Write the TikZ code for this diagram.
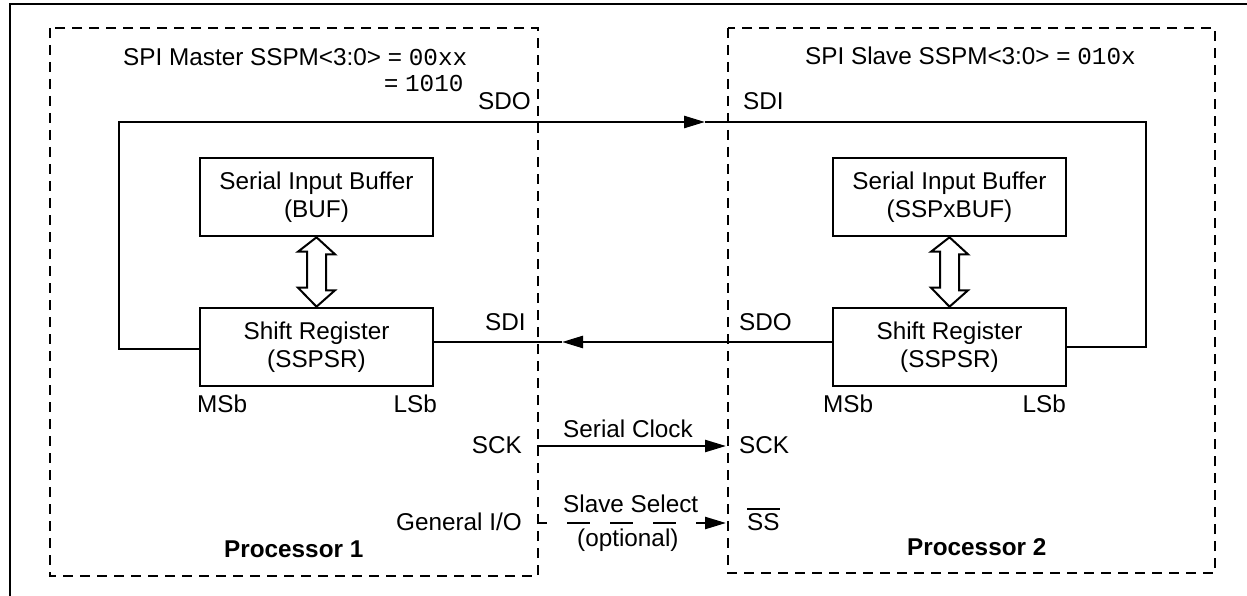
\documentclass[tikz,border=0pt]{standalone}
\usepackage{fontspec}
\setmainfont{Liberation Sans}
\setmonofont{Liberation Mono}
\usetikzlibrary{arrows.meta}
\newcommand\myoverbar[1]{\leavevmode\vbox{\hrule height 1.8pt\kern 3pt\hbox{#1}}}
\begin{document}
\begin{tikzpicture}[x=1pt,y=-1pt,
  every node/.style={font=\fontsize{24.3pt}{28pt}\selectfont, inner sep=0pt},
  blk/.style={draw, line width=2.6pt, minimum width=233pt, minimum height=78pt, align=center},
  wire/.style={line width=2.6pt},
  dbox/.style={line width=2pt, dash pattern=on 10pt off 7pt},
  arrowto/.style={-{Triangle[length=21pt,width=12pt]}},
  lbl/.style={anchor=base west},
  lble/.style={anchor=base east},
  dblarrow/.style={line width=2pt, fill=white}]
\useasboundingbox (0,0) rectangle (1247,596);

% outer frame
\draw[wire] (10,596) -- (10,4) -- (1247,4);

% processor boxes
\draw[dbox] (50,28) rectangle (538,576);
\draw[dbox] (728,28) rectangle (1215,573);

% titles
\node[lbl] (mtitle) at (123,66) {SPI Master SSPM<3:0> = \texttt{00xx}};
\node[lbl] (mtitle2) at (384,92) {= \texttt{1010}};
\node[lbl] (stitle) at (805,65) {SPI Slave SSPM<3:0> = \texttt{010x}};

% blocks
\node[blk] (mBUF) at (316.5,197) {Serial Input Buffer\\(BUF)};
\node[blk] (mSR) at (316.5,347) {Shift Register\\(SSPSR)};
\node[blk] (sBUF) at (949.5,197) {Serial Input Buffer\\(SSPxBUF)};
\node[blk] (sSR) at (949.5,347) {Shift Register\\(SSPSR)};

% double arrows
\draw[dblarrow] (mBUF.south) -- ++(18.5,17) -- ++(-9,0) -- ++(0,36) -- ++(9,0) -- (mSR.north)
  -- ++(-18.5,-19) -- ++(9,0) -- ++(0,-36) -- ++(-9,0) -- cycle;
\draw[dblarrow] (sBUF.south) -- ++(18.5,17) -- ++(-9,0) -- ++(0,36) -- ++(9,0) -- (sSR.north)
  -- ++(-18.5,-19) -- ++(9,0) -- ++(0,-36) -- ++(-9,0) -- cycle;

% SDO -> SDI loop
\coordinate (loopL) at (119,122);
\coordinate (loopR) at (1146,122);
\coordinate (sdoTip) at (705,122);
\draw[wire, arrowto] ([yshift=-2pt]mSR.west) -| (loopL) -- (sdoTip);
\draw[wire] (sdoTip) -- (loopR) |- (sSR.east);

% SDO(slave) -> SDI(master)
\coordinate (sdiTip) at (562,342);
\draw[wire, arrowto] ([yshift=5pt]sSR.west) -- (sdiTip);
\draw[wire] (sdiTip) -- ([yshift=5pt]mSR.east);

% SCK
\coordinate (sckA) at (537,446);
\coordinate (sckB) at (726,446);
\draw[line width=2.4pt, arrowto] (sckA) -- (sckB);

% Slave select
\coordinate (ssA) at (537,523);
\coordinate (ssB) at (726,523);
\draw[line width=2.4pt, dash pattern=on 23pt off 20pt, dash phase=13pt, arrowto] (ssA) -- (ssB);

% pin labels
\node[lbl] (mSDO) at (478,110) {SDO};
\node[lbl] (sSDI) at (743,110) {SDI};
\node[lbl] (mSDI) at (485,330) {SDI};
\node[lbl] (sSDO) at (739,330) {SDO};
\node[lbl] (mMSb) at (197,412) {MSb};
\node[lble] (mLSb) at (437,412) {LSb};
\node[lbl] (sMSb) at (823,412) {MSb};
\node[lble] (sLSb) at (1066,412) {LSb};
\node[lble] (mSCK) at (522,453) {SCK};
\node[lbl] (sSCK) at (739,453) {SCK};
\node[lbl] (clk) at (563,437) {Serial Clock};
\node[lble] (gio) at (522,530) {General I/O};
\node[lbl] (ssel) at (563,512) {Slave Select};
\node[lbl] (opt) at (577,546) {(optional)};
\node[lbl] (sSS) at (747,530) {\myoverbar{SS}};
\node[lbl, font=\fontsize{24.3pt}{28pt}\selectfont\bfseries] (p1) at (224,557) {Processor 1};
\node[lbl, font=\fontsize{24.3pt}{28pt}\selectfont\bfseries] (p2) at (907,555) {Processor 2};
\end{tikzpicture}
\end{document}
